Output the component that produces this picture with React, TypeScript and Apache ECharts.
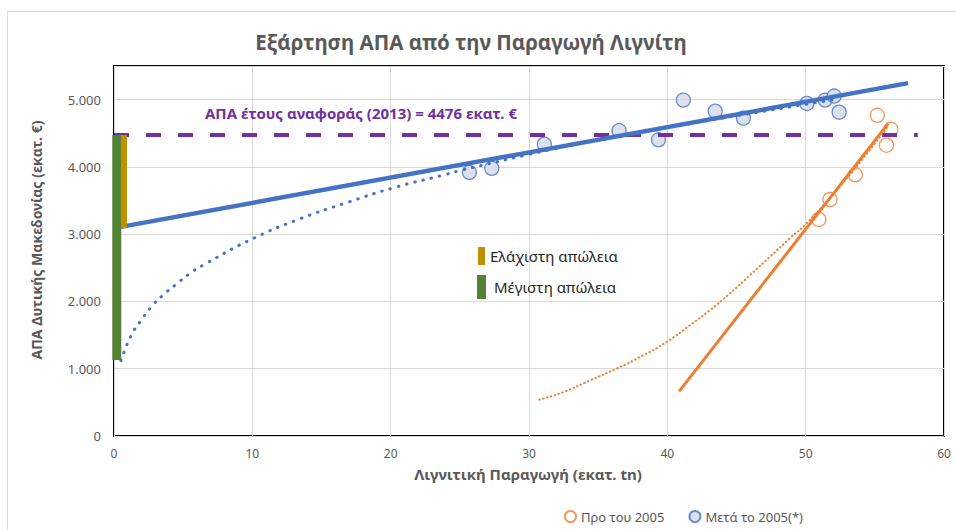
import React, { useEffect, useRef } from 'react';
import * as echarts from 'echarts';

const titleText = 'Εξάρτηση ΑΠΑ από την Παραγωγή Λιγνίτη';
const yTitle = 'ΑΠΑ Δυτικής Μακεδονίας (εκατ. €)';
const xTitle = 'Λιγνιτική Παραγωγή (εκατ. tn)';
const refLabel = 'ΑΠΑ έτους αναφοράς (2013) = 4476 εκατ. €';
const minLossLabel = 'Ελάχιστη απώλεια';
const maxLossLabel = 'Μέγιστη απώλεια';
const seriesBefore = 'Προ του 2005';
const seriesAfter = 'Μετά το 2005(*)';

// Scatter data
const beforeX = [55.18, 56.16, 55.84, 53.59, 51.76, 50.95];
const beforeY = [4767, 4559, 4322, 3882, 3514, 3220];
const afterX = [25.69, 27.31, 31.11, 36.51, 39.36, 41.16, 43.46, 45.5, 50.09, 51.41, 52.06, 52.42];
const afterY = [3919, 3979, 4337, 4541, 4403, 4993, 4829, 4725, 4944, 4993, 5053, 4814];

// Reference GDP value
const refValue = 4476;
const refX = [0, 58.1];

// Trend lines
const afterLinX = [0, 57.4];
const afterLinY = [3090, 5245];
const afterPowX = [0.5, 0.63, 1.32, 1.97, 2.68, 3.52, 4.46, 5.4, 6.46, 10.2, 13.45, 16.87, 20.32, 23.86, 25, 30, 35, 40, 45, 50, 52];
const afterPowY = [1120, 1201, 1524, 1723, 1917, 2091, 2249, 2404, 2543, 2950, 3229, 3472, 3696, 3881, 3945, 4185, 4405, 4585, 4760, 4930, 5000];
const beforeLinX = [40.85, 55.97];
const beforeLinY = [664, 4646];
const beforeCurveX = [30.75, 32.49, 34.42, 36.35, 38.27, 39.96, 41.65, 43.09, 44.54, 45.99, 47.43, 48.88, 50.09, 52, 54, 56];
const beforeCurveY = [540, 653, 828, 1003, 1201, 1399, 1648, 1872, 2122, 2394, 2667, 2942, 3166, 3597, 4087, 4620];

// Loss bars
const maxLossX = 0.2;
const maxLossY = [1128, 4476];
const minLossX = 0.72;
const minLossY = [3090, 4476];

// Axes
const xMin = 0, xMax = 60, xInterval = 10;
const yMin = 0, yMax = 5500, yInterval = 1000;

const zip = (xs: number[], ys: number[]) => xs.map((x, i) => [x, ys[i]]);

const fmtY = (v: number) => {
  if (v === 0) return '0';
  const th = Math.floor(v / 1000);
  const rest = String(v % 1000).padStart(3, '0');
  return th + '.' + rest;
};

const FONT = '"Noto Sans", "DejaVu Sans", sans-serif';

export default function App() {
  const ref = useRef<HTMLDivElement>(null);
  useEffect(() => {
    document.body.style.margin = '0';
    const chart = echarts.init(ref.current!, undefined, { renderer: 'svg' });
    chart.setOption({
      animation: false,
      backgroundColor: '#fff',
      textStyle: { fontFamily: FONT },
      grid: {
        left: 114, top: 66, width: 830, height: 370,
        show: true, borderColor: '#000', borderWidth: 2, backgroundColor: 'transparent',
        containLabel: false,
      },
      xAxis: {
        type: 'value', min: xMin, max: xMax, interval: xInterval,
        axisLine: { show: false }, axisTick: { show: false },
        splitLine: { show: true, lineStyle: { color: '#D9D9D9', width: 1 } },
        axisLabel: { color: '#595959', fontSize: 12, margin: 11, fontFamily: FONT },
      },
      yAxis: {
        type: 'value', min: yMin, max: yMax, interval: yInterval,
        axisLine: { show: false }, axisTick: { show: false },
        splitLine: { show: true, lineStyle: { color: '#D9D9D9', width: 1 } },
        axisLabel: { color: '#595959', fontSize: 13, margin: 13, fontFamily: FONT, formatter: fmtY, showMaxLabel: false },
      },
      legend: {
        left: 559, top: 505,
        itemWidth: 11, itemHeight: 11, itemGap: 24,
        textStyle: { color: '#595959', fontSize: 13, fontFamily: FONT },
        data: [seriesBefore, seriesAfter],
      },
      graphic: [
        { type: 'rect', silent: true, z: -10, shape: { x: 7.5, y: 11.5, width: 980, height: 560 }, style: { fill: 'none', stroke: '#D9D9D9', lineWidth: 1 } },
        { type: 'text', x: 471, y: 42, style: { text: titleText, font: `bold 20.5px ${FONT}`, fill: '#595959', align: 'center', verticalAlign: 'middle' } },
        { type: 'text', x: 36, y: 240, rotation: Math.PI / 2, style: { text: yTitle, font: `bold 14px ${FONT}`, fill: '#595959', align: 'center', verticalAlign: 'middle' } },
        { type: 'text', x: 528, y: 474, style: { text: xTitle, font: `bold 15px ${FONT}`, fill: '#595959', align: 'center', verticalAlign: 'middle' } },
        { type: 'text', x: 361, y: 113, z: 20, style: { text: refLabel, font: `bold 15px ${FONT}`, fill: '#7030A0', align: 'center', verticalAlign: 'middle' } },
        { type: 'rect', z: 20, shape: { x: 478, y: 247, width: 7, height: 18 }, style: { fill: '#BF9000' } },
        { type: 'text', x: 490, y: 256, z: 20, style: { text: minLossLabel, font: `15px ${FONT}`, fill: '#262626', align: 'left', verticalAlign: 'middle' } },
        { type: 'rect', z: 20, shape: { x: 477, y: 275, width: 9, height: 24 }, style: { fill: '#548235' } },
        { type: 'text', x: 494, y: 287, z: 20, style: { text: maxLossLabel, font: `15px ${FONT}`, fill: '#262626', align: 'left', verticalAlign: 'middle' } },
      ],
      series: [
        {
          name: seriesBefore, type: 'scatter', data: zip(beforeX, beforeY), symbol: 'circle', symbolSize: 14,
          itemStyle: { color: 'rgba(255,255,255,0)', borderColor: '#ED7D31', borderWidth: 1.3 },
        },
        {
          name: seriesAfter, type: 'scatter', data: zip(afterX, afterY), symbol: 'circle', symbolSize: 14,
          itemStyle: { color: '#D3DAE6', borderColor: '#4472C4', borderWidth: 1.3 },
        },
        {
          type: 'line', data: refX.map((x) => [x, refValue]), symbol: 'none', silent: true,
          lineStyle: { color: '#7030A0', width: 4, type: [15, 17], cap: 'butt' },
        },
        {
          type: 'line', data: zip(afterPowX, afterPowY), symbol: 'none', smooth: true, silent: true,
          lineStyle: { color: '#4472C4', width: 3, type: [0.5, 8], cap: 'round' },
        },
        {
          type: 'line', data: zip(afterLinX, afterLinY), symbol: 'none', silent: true,
          lineStyle: { color: '#4472C4', width: 4.5 },
        },
        {
          type: 'line', data: zip(beforeCurveX, beforeCurveY), symbol: 'none', smooth: true, silent: true,
          lineStyle: { color: '#ED7D31', width: 2, type: [0.5, 3.5], cap: 'round' },
        },
        {
          type: 'line', data: zip(beforeLinX, beforeLinY), symbol: 'none', silent: true,
          lineStyle: { color: '#ED7D31', width: 3 },
        },
        {
          type: 'line', data: maxLossY.map((y) => [maxLossX, y]), symbol: 'none', silent: true, clip: false,
          lineStyle: { color: '#548235', width: 9, cap: 'butt' },
        },
        {
          type: 'line', data: minLossY.map((y) => [minLossX, y]), symbol: 'none', silent: true, clip: false,
          lineStyle: { color: '#BF9000', width: 6, cap: 'butt' },
        },
      ],
    });
    return () => chart.dispose();
  }, []);
  return <div ref={ref} style={{ width: 956, height: 530 }} />;
}
